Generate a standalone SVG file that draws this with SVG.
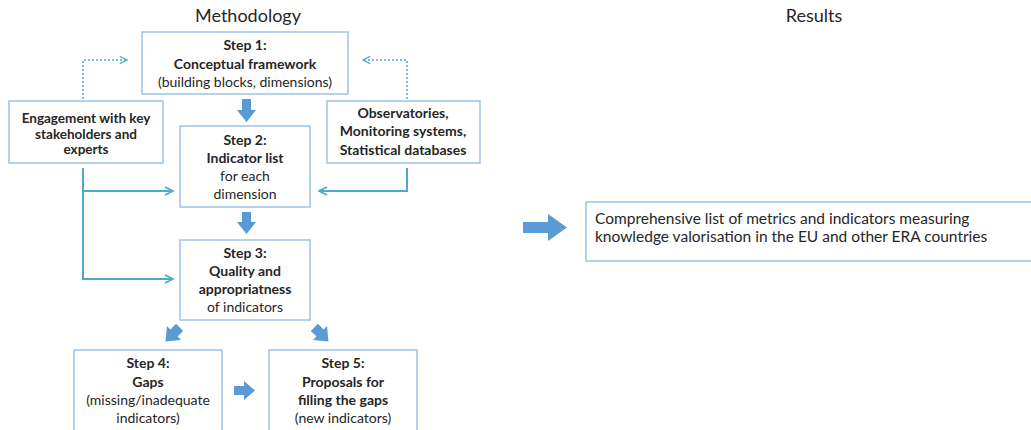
<svg xmlns="http://www.w3.org/2000/svg" width="1031" height="430" viewBox="0 0 1031 430">
<style>
.box{fill:#fff;stroke:#9dc3e6;stroke-width:1.5}
text{font-family:Lato,"Open Sans",sans-serif;fill:#262626;text-anchor:middle;font-size:14px}
.b{font-weight:bold}
.e{font-size:13.5px}
.t{font-size:18px}
.r{text-anchor:start;font-size:15.5px}
.con{fill:none;stroke:#4bacc6;stroke-width:2}
.dot{fill:none;stroke:#4bacc6;stroke-width:1.5;stroke-dasharray:2 2}
.blk{fill:#5b9bd5}
</style>
<defs>
<marker id="open" viewBox="0 0 10 10" refX="9" refY="5" markerWidth="10" markerHeight="10" markerUnits="userSpaceOnUse" orient="auto"><path d="M1 1 L9 5 L1 9" fill="none" stroke="#4bacc6" stroke-width="1.6"/></marker>
<marker id="opend" viewBox="0 0 10 10" refX="9" refY="5" markerWidth="9" markerHeight="9" markerUnits="userSpaceOnUse" orient="auto"><path d="M1 1 L9 5 L1 9" fill="none" stroke="#4bacc6" stroke-width="1.4"/></marker>
</defs>
<text class="t" x="248" y="22">Methodology</text>
<text class="t" x="814" y="22">Results</text>
<g id="connectors">
<path class="dot" d="M83 99 V60 H127" marker-end="url(#opend)"/>
<path class="dot" d="M407 99 V60 H363" marker-end="url(#opend)"/>
<path class="con" d="M83 168 V279 H173" marker-end="url(#open)"/>
<path class="con" d="M83 191 H173" marker-end="url(#open)"/>
<path class="con" d="M407 168 V191 H319" marker-end="url(#open)"/>
<path class="blk" d="M242 99 H251 V110 H256 L246.5 122 L237 110 H242 Z"/>
<path class="blk" d="M242 212 H251 V222 H256 L246.5 234 L237 222 H242 Z"/>
<path class="blk" d="M234 386 H244 V381 L255 390.5 L244 400 V395 H234 Z"/>
<path class="blk" d="M523 222 H548 V214 L567 227.5 L548 241 V233 H523 Z"/>
<g transform="translate(174 333) rotate(45)"><path class="blk" d="M-5 -8 H5 V0 H10 L0 12 L-10 0 H-5 Z"/></g>
<g transform="translate(320 333) rotate(-45)"><path class="blk" d="M-5 -8 H5 V0 H10 L0 12 L-10 0 H-5 Z"/></g>
</g>
<g id="step1"><rect class="box" x="142" y="32" width="206" height="62"/>
<text class="b" x="245" y="50">Step 1:</text><text class="b" x="245" y="69">Conceptual framework</text><text x="245" y="87">(building blocks, dimensions)</text></g>
<g id="engagement"><rect class="box" x="9" y="101" width="154" height="62"/>
<text class="b e" x="86" y="123">Engagement with key</text><text class="b e" x="86" y="139">stakeholders and</text><text class="b e" x="86" y="154">experts</text></g>
<g id="observatories"><rect class="box" x="327" y="101" width="153" height="62"/>
<text class="b" x="403" y="118">Observatories,</text><text class="b" x="403" y="136">Monitoring systems,</text><text class="b" x="403" y="155">Statistical databases</text></g>
<g id="step2"><rect class="box" x="180" y="126" width="130" height="81"/>
<text class="b" x="245" y="145">Step 2:</text><text class="b" x="245" y="163">Indicator list</text><text x="245" y="181">for each</text><text x="245" y="199">dimension</text></g>
<g id="step3"><rect class="box" x="180" y="240" width="130" height="80"/>
<text class="b" x="245" y="258">Step 3:</text><text class="b" x="245" y="276">Quality and</text><text class="b" x="245" y="294">appropriatness</text><text x="245" y="312">of indicators</text></g>
<g id="step4"><rect class="box" x="74" y="350" width="148" height="82"/>
<text class="b" x="148" y="368">Step 4:</text><text class="b" x="148" y="387">Gaps</text><text x="148" y="405">(missing/inadequate</text><text x="148" y="423">indicators)</text></g>
<g id="step5"><rect class="box" x="269" y="350" width="148" height="82"/>
<text class="b" x="343" y="368">Step 5:</text><text class="b" x="343" y="387">Proposals for</text><text class="b" x="343" y="405">filling the gaps</text><text x="343" y="423">(new indicators)</text></g>
<g id="results"><rect class="box" x="586" y="202" width="450" height="59"/>
<text class="r" x="595" y="224">Comprehensive list of metrics and indicators measuring</text><text class="r" x="595" y="242">knowledge valorisation in the EU and other ERA countries</text></g>
</svg>
